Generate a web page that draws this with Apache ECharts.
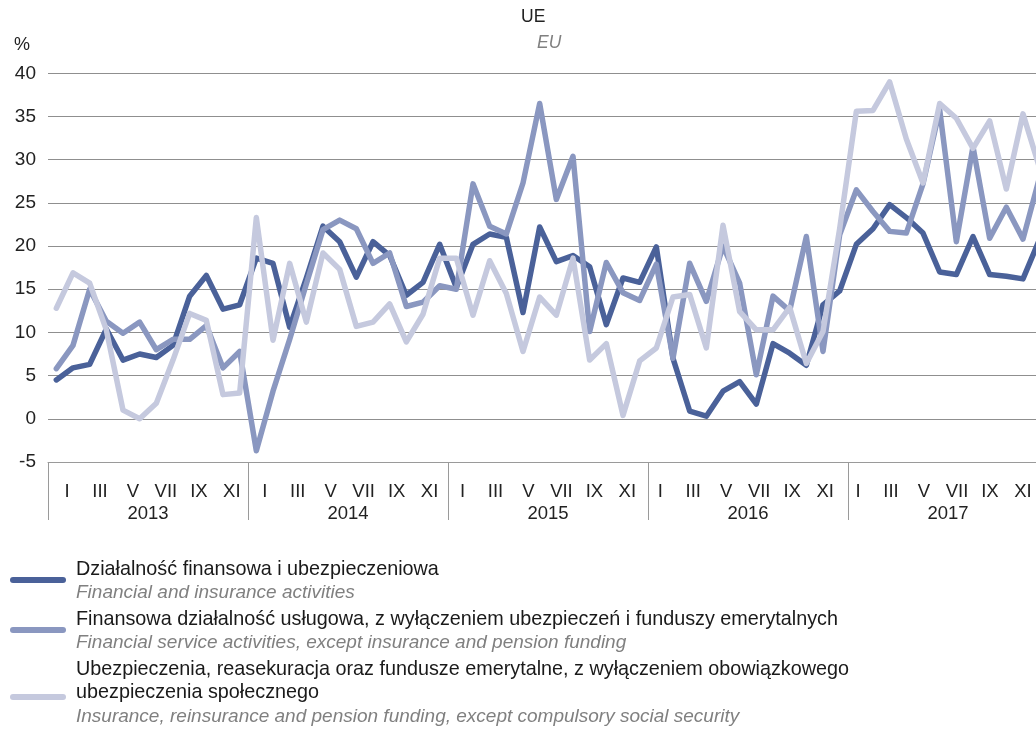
<!DOCTYPE html>
<html>
<head>
<meta charset="utf-8">
<script src="https://cdn.jsdelivr.net/npm/echarts@6/dist/echarts.min.js"></script>
<style>
html,body{margin:0;padding:0;background:#fff;overflow:hidden;width:1036px;height:729px;}
#chart{width:1048px;height:729px;}
</style>
</head>
<body>
<div id="chart"></div>
<script>
// ---- data ----
var monthNames = ['I','II','III','IV','V','VI','VII','VIII','IX','X','XI','XII'];
var years = ['2013','2014','2015','2016','2017'];
var months = [];
years.forEach(function(){ monthNames.forEach(function(m){ months.push(m); }); });

var seriesNamesPL = [
  'Działalność finansowa i ubezpieczeniowa',
  'Finansowa działalność usługowa, z wyłączeniem ubezpieczeń i funduszy emerytalnych',
  'Ubezpieczenia, reasekuracja oraz fundusze emerytalne, z wyłączeniem obowiązkowego\nubezpieczenia społecznego'
];
var seriesNamesEN = [
  'Financial and insurance activities',
  'Financial service activities, except insurance and pension funding',
  'Insurance, reinsurance and pension funding, except compulsory social security'
];

var financeInsurance = [
  4.5, 5.9, 6.3, 10.4, 6.8, 7.5, 7.1, 8.5, 14.2, 16.6, 12.7, 13.2,
  18.6, 18.0, 10.6, 16.3, 22.3, 20.5, 16.4, 20.5, 18.9, 14.3, 15.8, 20.2,
  15.2, 20.2, 21.4, 21.0, 12.3, 22.2, 18.2, 18.9, 17.6, 10.9, 16.3, 15.8,
  19.9, 7.0, 0.9, 0.3, 3.2, 4.3, 1.7, 8.7, 7.6, 6.2, 13.2, 14.8,
  20.2, 22.0, 24.8, 23.3, 21.5, 17.0, 16.7, 21.1, 16.7, 16.5, 16.2, 20.8
];
var financialServices = [
  5.8, 8.5, 15.0, 11.3, 9.9, 11.2, 8.0, 9.2, 9.2, 10.8, 5.9, 7.8,
  -3.7, 3.2, 9.2, 15.6, 21.9, 23.0, 22.0, 18.0, 19.2, 13.0, 13.5, 15.4,
  15.0, 27.2, 22.3, 21.4, 27.3, 36.5, 25.4, 30.4, 10.1, 18.1, 14.6, 13.7,
  17.9, 7.0, 18.0, 13.6, 20.0, 15.7, 5.1, 14.2, 12.5, 21.1, 7.8, 21.3,
  26.5, 24.0, 21.7, 21.5, 27.2, 35.8, 20.5, 31.5, 20.9, 24.5, 20.8, 28.0
];
var insurancePension = [
  12.8, 16.9, 15.7, 10.3, 1.0, 0.0, 1.8, 6.8, 12.2, 11.4, 2.8, 3.0,
  23.3, 9.1, 18.0, 11.2, 19.2, 17.3, 10.7, 11.2, 13.3, 8.9, 12.1, 18.6,
  18.6, 12.0, 18.3, 14.5, 7.8, 14.1, 12.0, 18.6, 6.8, 8.7, 0.4, 6.7,
  8.2, 14.1, 14.4, 8.2, 22.4, 12.4, 10.3, 10.3, 12.9, 6.4, 10.1, 22.0,
  35.6, 35.7, 39.0, 32.4, 27.3, 36.5, 34.8, 31.3, 34.5, 26.6, 35.3, 29.0
];
var yTicks = {min: -5, max: 40, step: 5};

var colors = ['#4a6199', '#8a97c0', '#c5c9de'];
var FONT = 'Liberation Sans, Arial, sans-serif';

var chart = echarts.init(document.getElementById('chart'), null, {renderer: 'canvas'});

function mkSeries(i, data) {
  return {
    name: seriesNamesPL[i],
    type: 'line',
    data: data,
    symbol: 'none',
    smooth: false,
    xAxisIndex: 0,
    yAxisIndex: 0,
    lineStyle: {color: colors[i], width: 5.5, cap: 'round', join: 'round'},
    itemStyle: {color: colors[i]},
    emphasis: {disabled: true},
    animation: false
  };
}

// legend built as graphic elements (line sample + two-language label)
var legendRows = [
  {y: 580, lines: [{t: seriesNamesPL[0], y: 570, en: false}, {t: seriesNamesEN[0], y: 593, en: true}]},
  {y: 630, lines: [{t: seriesNamesPL[1], y: 620, en: false}, {t: seriesNamesEN[1], y: 643, en: true}]},
  {y: 697, lines: [{t: seriesNamesPL[2].split('\n')[0], y: 670, en: false},
                   {t: seriesNamesPL[2].split('\n')[1], y: 693, en: false},
                   {t: seriesNamesEN[2], y: 717, en: true}]}
];
var legendGraphics = [];
legendRows.forEach(function(row, i){
  legendGraphics.push({
    type: 'line', silent: true,
    shape: {x1: 13, y1: row.y, x2: 63, y2: row.y},
    style: {stroke: colors[i], lineWidth: 6, lineCap: 'round'}
  });
  row.lines.forEach(function(l){
    legendGraphics.push({
      type: 'text', silent: true,
      style: {
        x: 76, y: l.y, text: l.t, verticalAlign: 'middle',
        fontSize: l.en ? 19 : 19.8, fontFamily: FONT,
        fontStyle: l.en ? 'italic' : 'normal',
        fill: l.en ? '#808080' : '#1a1a1a'
      }
    });
  });
});

var option = {
  backgroundColor: '#fff',
  animation: false,
  textStyle: {fontFamily: FONT},
  grid: [
    {left: 48, right: 0, top: 73.3, height: 388.7, containLabel: false},
    // label-only grid: month labels in the original sit on a slightly tighter pitch
    {left: 58.8, width: 988.8, top: 73.3, height: 388.7, containLabel: false}
  ],
  xAxis: [
    {
      type: 'category',
      gridIndex: 0,
      data: months,
      boundaryGap: true,
      position: 'bottom',
      axisLine: {show: true, onZero: false, lineStyle: {color: '#9a9a9a', width: 1}},
      axisTick: {
        show: true,
        length: 58,
        interval: function(idx){ return idx % 12 === 0; },
        lineStyle: {color: '#9a9a9a', width: 1}
      },
      axisLabel: {show: false},
      splitLine: {show: false}
    },
    {
      type: 'category',
      data: years,
      position: 'bottom',
      gridIndex: 0,
      axisLine: {show: false, onZero: false},
      axisTick: {show: false},
      axisLabel: {margin: 42, color: '#222', fontSize: 18.5, fontFamily: FONT},
      splitLine: {show: false}
    },
    {
      type: 'category',
      gridIndex: 1,
      data: months,
      boundaryGap: true,
      position: 'bottom',
      axisLine: {show: false, onZero: false},
      axisTick: {show: false},
      axisLabel: {interval: 1, margin: 20, color: '#222', fontSize: 18.5, fontFamily: FONT},
      splitLine: {show: false}
    }
  ],
  yAxis: [
    {
      type: 'value',
      gridIndex: 0,
      min: yTicks.min,
      max: yTicks.max,
      interval: yTicks.step,
      axisLine: {show: false},
      axisTick: {show: false},
      axisLabel: {margin: 12, color: '#222', fontSize: 19, fontFamily: FONT},
      splitLine: {show: true, lineStyle: {color: '#8f8f8f', width: 1}}
    },
    {
      type: 'value',
      gridIndex: 1,
      min: yTicks.min,
      max: yTicks.max,
      interval: yTicks.step,
      show: false
    }
  ],
  graphic: [
    {type: 'text', left: 521, top: 8, style: {text: 'UE', fontSize: 17.5, fill: '#222', fontFamily: FONT}},
    {type: 'text', left: 537, top: 34, style: {text: 'EU', fontSize: 17.5, fill: '#808080', fontStyle: 'italic', fontFamily: FONT}},
    {type: 'text', left: 14, top: 36, style: {text: '%', fontSize: 18, fill: '#222', fontFamily: FONT}}
  ].concat(legendGraphics),
  series: [
    mkSeries(0, financeInsurance),
    mkSeries(1, financialServices),
    mkSeries(2, insurancePension)
  ]
};
chart.setOption(option);
</script>
</body>
</html>
